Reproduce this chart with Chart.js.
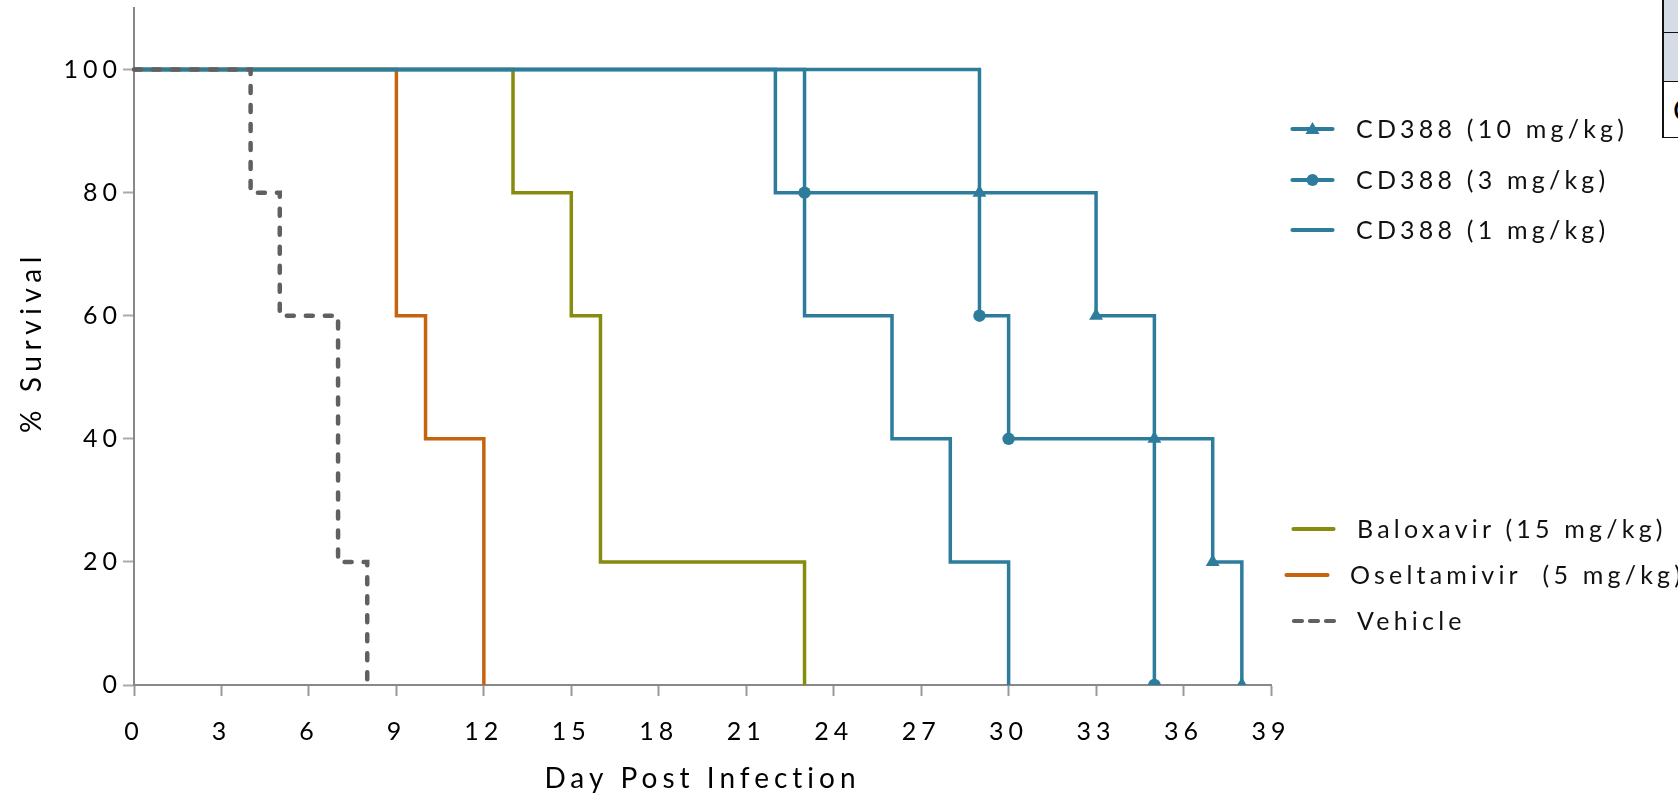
<!DOCTYPE html>
<html><head><meta charset="utf-8">
<script src="https://cdn.jsdelivr.net/npm/chart.js@4.4.1/dist/chart.umd.min.js"></script>
<style>
html,body{margin:0;padding:0;background:#fff;overflow:hidden}
#wrap{position:relative;width:1678px;height:795px;overflow:hidden;background:#fff}
#c{position:absolute;left:0;top:0}
.sw{position:absolute;width:52px;height:20px;overflow:visible}
.lt{position:absolute;font-family:Lato,'Open Sans',sans-serif;font-size:25px;letter-spacing:4.2px;color:#111;white-space:pre;line-height:30px;height:30px}
#tbl{position:absolute;left:1662px;top:-2px;width:40px}
#tbl div{border-left:2px solid #111;border-bottom:1.5px solid #111;box-sizing:border-box}
</style>
</head><body>
<div id="wrap">
<canvas id="c" width="1678" height="795"></canvas>
<div id="tbl">
  <div style="height:35px;background:#d6dce5"></div>
  <div style="height:49px;background:#d6dce5"></div>
  <div style="height:56px;background:#fff;font-family:Lato,sans-serif;font-size:30px;line-height:54px;padding-left:9px;color:#000">C</div>
</div>
<div id="legend"></div>
</div>
<script>
// ---- data ----
const xTicks = [0,3,6,9,12,15,18,21,24,27,30,33,36,39];
const yTicks = [0,20,40,60,80,100];
const xTitle = 'Day Post Infection';
const yTitle = '% Survival';

const seriesNames = ['Vehicle','CD388 (10 mg/kg)','CD388 (3 mg/kg)','CD388 (1 mg/kg)','Baloxavir (15 mg/kg)','Oseltamivir  (5 mg/kg)'];

const vehicleDays = [0,4,5,7,8];
const vehicleSurv = [100,80,60,20,0];

const cd10Days = [0,29,33,35,37,38];
const cd10Surv = [100,80,60,40,20,0];

const cd3Days = [0,23,29,30,35];
const cd3Surv = [100,80,60,40,0];

const cd1Days = [0,22,23,26,28,30];
const cd1Surv = [100,80,60,40,20,0];

const baloDays = [0,13,15,16,23];
const baloSurv = [100,80,60,20,0];

const oselDays = [0,9,10,12];
const oselSurv = [100,60,40,0];

// ---- styles ----
const BLUE = '#2d7c9c', OLIVE = '#878b0e', ORANGE = '#c5630f', GRAY = '#606060';
const FONT = 'Lato';

function pts(days, surv){ return days.map((d,i)=>({x:d, y:surv[i]})); }
const markR = r => (ctx => ctx.dataIndex === 0 ? 0 : r);

function build(){
  const spacing = {
    id:'spacing',
    beforeUpdate(ch){ ch.ctx.letterSpacing = '5px'; },
    beforeLayout(ch){ ch.ctx.letterSpacing = '5px'; },
    beforeDraw(ch){ ch.ctx.letterSpacing = '5px'; },
    afterDraw(ch){
      const ctx = ch.ctx;
      ctx.save();
      ctx.letterSpacing = '5.6px';
      ctx.font = '28px ' + FONT;
      ctx.fillStyle = '#000';
      ctx.translate(32, 342);
      ctx.rotate(-Math.PI/2);
      ctx.textAlign = 'center';
      ctx.textBaseline = 'middle';
      ctx.fillText(yTitle, 0, 0);
      ctx.restore();
    }
  };
  const common = {stepped:'before', fill:false, tension:0, pointBorderWidth:0, pointHoverRadius:0,
                  clip:{left:10, top:10, right:10, bottom:0}};
  new Chart(document.getElementById('c'), {
    type:'line',
    data:{datasets:[
      Object.assign({}, common, {label:seriesNames[0], data:pts(vehicleDays,vehicleSurv), borderColor:GRAY, borderWidth:4.5,
        borderDash:[7,12], borderCapStyle:'round', pointRadius:0}),
      Object.assign({}, common, {label:seriesNames[1], data:pts(cd10Days,cd10Surv), borderColor:BLUE, borderWidth:3.5,
        pointStyle:'triangle', pointRadius:markR(8), pointBackgroundColor:BLUE}),
      Object.assign({}, common, {label:seriesNames[2], data:pts(cd3Days,cd3Surv), borderColor:BLUE, borderWidth:3.5,
        pointStyle:'circle', pointRadius:markR(6.2), pointBackgroundColor:BLUE}),
      Object.assign({}, common, {label:seriesNames[3], data:pts(cd1Days,cd1Surv), borderColor:BLUE, borderWidth:3.5, pointRadius:0}),
      Object.assign({}, common, {label:seriesNames[4], data:pts(baloDays,baloSurv), borderColor:OLIVE, borderWidth:3.5, pointRadius:0}),
      Object.assign({}, common, {label:seriesNames[5], data:pts(oselDays,oselSurv), borderColor:ORANGE, borderWidth:3.5, pointRadius:0})
    ]},
    options:{
      responsive:false, animation:false, devicePixelRatio:1,
      layout:{padding:{top:8, right:407, bottom:0, left:0}},
      plugins:{legend:{display:false}, tooltip:{enabled:false}},
      events:[],
      scales:{
        x:{type:'linear', min:xTicks[0], max:xTicks[xTicks.length-1],
          afterBuildTicks:s=>{ s.ticks = xTicks.map(v=>({value:v})); },
          afterFit:s=>{ s.height = 110; s.paddingLeft = 0; },
          ticks:{stepSize:3, color:'#000', font:{family:FONT, size:25}, padding:21, maxRotation:0, autoSkip:false},
          grid:{drawOnChartArea:false, drawTicks:true, tickLength:11, tickColor:'#999', tickWidth:2},
          border:{color:'#888', width:2},
          title:{display:true, text:xTitle, color:'#000', font:{family:FONT, size:28, lineHeight:1}, padding:{top:0, bottom:2}}
        },
        y:{type:'linear', min:0, max:110,
          afterBuildTicks:s=>{ s.ticks = yTicks.map(v=>({value:v})); },
          afterFit:s=>{ s.width = 134; s.paddingTop = 0; s.paddingBottom = 0; },
          ticks:{stepSize:20, color:'#000', font:{family:FONT, size:25}, padding:1},
          grid:{drawOnChartArea:false, drawTicks:true, tickLength:11, tickColor:'#aaa', tickWidth:2},
          border:{color:'#888', width:2},
          title:{display:false}
        }
      }
    },
    plugins:[spacing]
  });

  // legend (two groups, as in the reference)
  const legendRows = [
    {name:seriesNames[1], color:BLUE, cy:128.5, x1:1291, x2:1334, tx:1356, mark:'tri'},
    {name:seriesNames[2], color:BLUE, cy:179.5, x1:1291, x2:1334, tx:1356, mark:'dot'},
    {name:seriesNames[3], color:BLUE, cy:230, x1:1291, x2:1334, tx:1356},
    {name:seriesNames[4], color:OLIVE, cy:528.5, x1:1292, x2:1335, tx:1357},
    {name:seriesNames[5], color:ORANGE, cy:575, x1:1285, x2:1329, tx:1350},
    {name:seriesNames[0], color:GRAY, cy:620.5, x1:1292, x2:1337, tx:1357, dash:true}
  ];
  const lg = document.getElementById('legend');
  legendRows.forEach(r=>{
    const w = r.x2 - r.x1, m = w/2;
    let mk = '';
    if (r.mark==='tri') mk = `<polygon points="${m-7},${15} ${m+7},${15} ${m},${3}" fill="${r.color}"/>`;
    if (r.mark==='dot') mk = `<circle cx="${m}" cy="10" r="6" fill="${r.color}"/>`;
    const dash = r.dash ? 'stroke-dasharray="8 8"' : '';
    const svg = `<svg class="sw" style="left:${r.x1}px;top:${r.cy-10}px;width:${w}px" viewBox="0 0 ${w} 20">
      <line x1="${r.dash?2:1.5}" y1="10" x2="${w-1.5}" y2="10" stroke="${r.color}" stroke-width="4.2" stroke-linecap="round" ${dash}/>${mk}</svg>`;
    lg.insertAdjacentHTML('beforeend', svg + `<div class="lt" style="left:${r.tx}px;top:${r.cy-16}px">${r.name}</div>`);
  });
}

let done = false;
function go(){ if (done) return; done = true; build(); }
if (document.fonts && document.fonts.load) {
  Promise.all([document.fonts.load('25px Lato'), document.fonts.load('28px Lato')]).then(go, go);
  setTimeout(go, 1500);
} else go();
</script>
</body></html>
